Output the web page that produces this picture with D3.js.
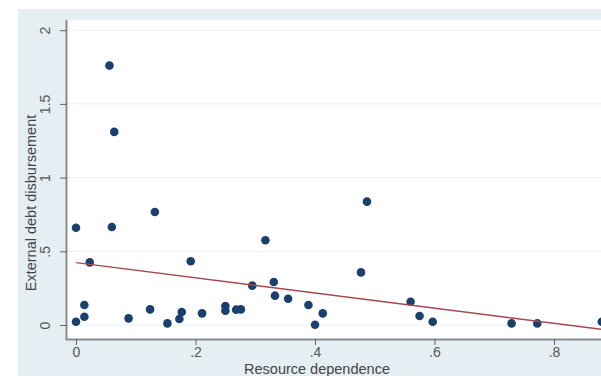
<!DOCTYPE html>
<html>
<head>
<meta charset="utf-8">
<script src="https://cdn.jsdelivr.net/npm/d3@7"></script>
<style>
  html, body { margin: 0; padding: 0; background: #fff; }
  svg { display: block; font-family: 'Liberation Sans', Arial, sans-serif; }
</style>
</head>
<body>
<div id="chart"></div>
<script>
// Resource dependence (x) vs external debt disbursement (y)
const resourceDep = [0.000, 0.000, 0.014, 0.014, 0.023, 0.056, 0.060, 0.064, 0.088, 0.124,
  0.132, 0.153, 0.173, 0.177, 0.192, 0.211, 0.250, 0.250, 0.268, 0.276,
  0.295, 0.317, 0.331, 0.333, 0.355, 0.389, 0.400, 0.413, 0.477, 0.487,
  0.560, 0.575, 0.597, 0.729, 0.772, 0.880];
const debtDisb = [0.022, 0.660, 0.056, 0.136, 0.425, 1.760, 0.665, 1.310, 0.045, 0.106,
  0.767, 0.011, 0.041, 0.088, 0.432, 0.079, 0.129, 0.097, 0.104, 0.106,
  0.267, 0.575, 0.292, 0.199, 0.178, 0.136, 0.002, 0.079, 0.357, 0.837,
  0.158, 0.061, 0.022, 0.011, 0.011, 0.022];

// fitted line end points
const fitX = [0, 0.9];
const fitY = [0.423, -0.04];

const xTicks = [0, 0.2, 0.4, 0.6, 0.8];
const xTickLabels = ['0', '.2', '.4', '.6', '.8'];
const yTicks = [0, 0.5, 1, 1.5, 2];
const yTickLabels = ['0', '.5', '1', '1.5', '2'];

const width = 601;
const height = 376;

const svg = d3.select('#chart')
  .append('svg')
    .attr('width', width)
    .attr('height', height);

// graph region (light bluish) and plot region (white)
svg.append('rect')
  .attr('x', 18).attr('y', 9)
  .attr('width', width - 18).attr('height', height - 9)
  .attr('fill', '#e5eef2');

const plotLeft = 67, plotTop = 20, plotBottom = 339, plotRight = width;

svg.append('rect')
  .attr('x', plotLeft).attr('y', plotTop)
  .attr('width', plotRight - plotLeft).attr('height', plotBottom - plotTop)
  .attr('fill', '#ffffff');

const x = d3.scaleLinear()
  .domain([0, 1])
  .range([76, 673.5]);

const y = d3.scaleLinear()
  .domain([0, 2])
  .range([325, 30.2]);

svg.append('clipPath').attr('id', 'plotclip')
  .append('rect')
    .attr('x', plotLeft).attr('y', plotTop)
    .attr('width', plotRight - plotLeft).attr('height', plotBottom - plotTop);

// grid lines
svg.append('g')
  .selectAll('line')
  .data(yTicks)
  .join('line')
    .attr('x1', plotLeft).attr('x2', plotRight)
    .attr('y1', (d) => y(d)).attr('y2', (d) => y(d))
    .attr('stroke', '#eaf0f3')
    .attr('stroke-width', 1);

const plot = svg.append('g').attr('clip-path', 'url(#plotclip)');

// points
plot.append('g')
  .selectAll('circle')
  .data(resourceDep.map((d, i) => [d, debtDisb[i]]))
  .join('circle')
    .attr('cx', (d) => x(d[0]))
    .attr('cy', (d) => y(d[1]))
    .attr('r', 4.3)
    .attr('fill', '#1a406e');

// fitted line
plot.append('path')
  .datum(fitX.map((d, i) => [d, fitY[i]]))
  .attr('fill', 'none')
  .attr('stroke', '#a8474f')
  .attr('stroke-width', 1.4)
  .attr('d', d3.line()
    .x((d) => x(d[0]))
    .y((d) => y(d[1]))
  );

// Y axis
const yAxis = svg.append('g')
  .attr('transform', 'translate(' + plotLeft + ',0)')
  .call(d3.axisLeft(y).tickValues(yTicks).tickSize(7).tickPadding(6)
    .tickFormat((d, i) => yTickLabels[i]));
yAxis.select('.domain')
  .attr('d', 'M-0.5,' + plotTop + 'V' + plotBottom)
  .attr('stroke', '#8c8c8c').attr('stroke-width', 2);
yAxis.selectAll('.tick line').attr('stroke', '#666');
// vertical tick labels, as in Stata
yAxis.selectAll('.tick text')
  .attr('x', 0)
  .attr('y', 0)
  .attr('dy', '0.35em')
  .attr('transform', 'translate(-22,0) rotate(-90)')
  .attr('text-anchor', 'middle')
  .attr('font-size', 14)
  .attr('fill', '#555');

// X axis
const xAxis = svg.append('g')
  .attr('transform', 'translate(0,' + plotBottom + ')')
  .call(d3.axisBottom(x).tickValues(xTicks).tickSize(6).tickPadding(2)
    .tickFormat((d, i) => xTickLabels[i]));
xAxis.select('.domain')
  .attr('d', 'M' + (plotLeft - 1.5) + ',0.5H' + plotRight)
  .attr('stroke', '#8c8c8c').attr('stroke-width', 2);
xAxis.selectAll('.tick line').attr('stroke', '#666');
xAxis.selectAll('.tick text')
  .attr('font-size', 14)
  .attr('fill', '#555');

// axis titles
svg.append('text')
  .attr('transform', 'translate(36,203) rotate(-90)')
  .attr('text-anchor', 'middle')
  .attr('font-size', 14.5)
  .attr('fill', '#444')
  .text('External debt disbursement');

svg.append('text')
  .attr('x', 317).attr('y', 374)
  .attr('text-anchor', 'middle')
  .attr('font-size', 14.5)
  .attr('fill', '#444')
  .text('Resource dependence');
</script>
</body>
</html>
